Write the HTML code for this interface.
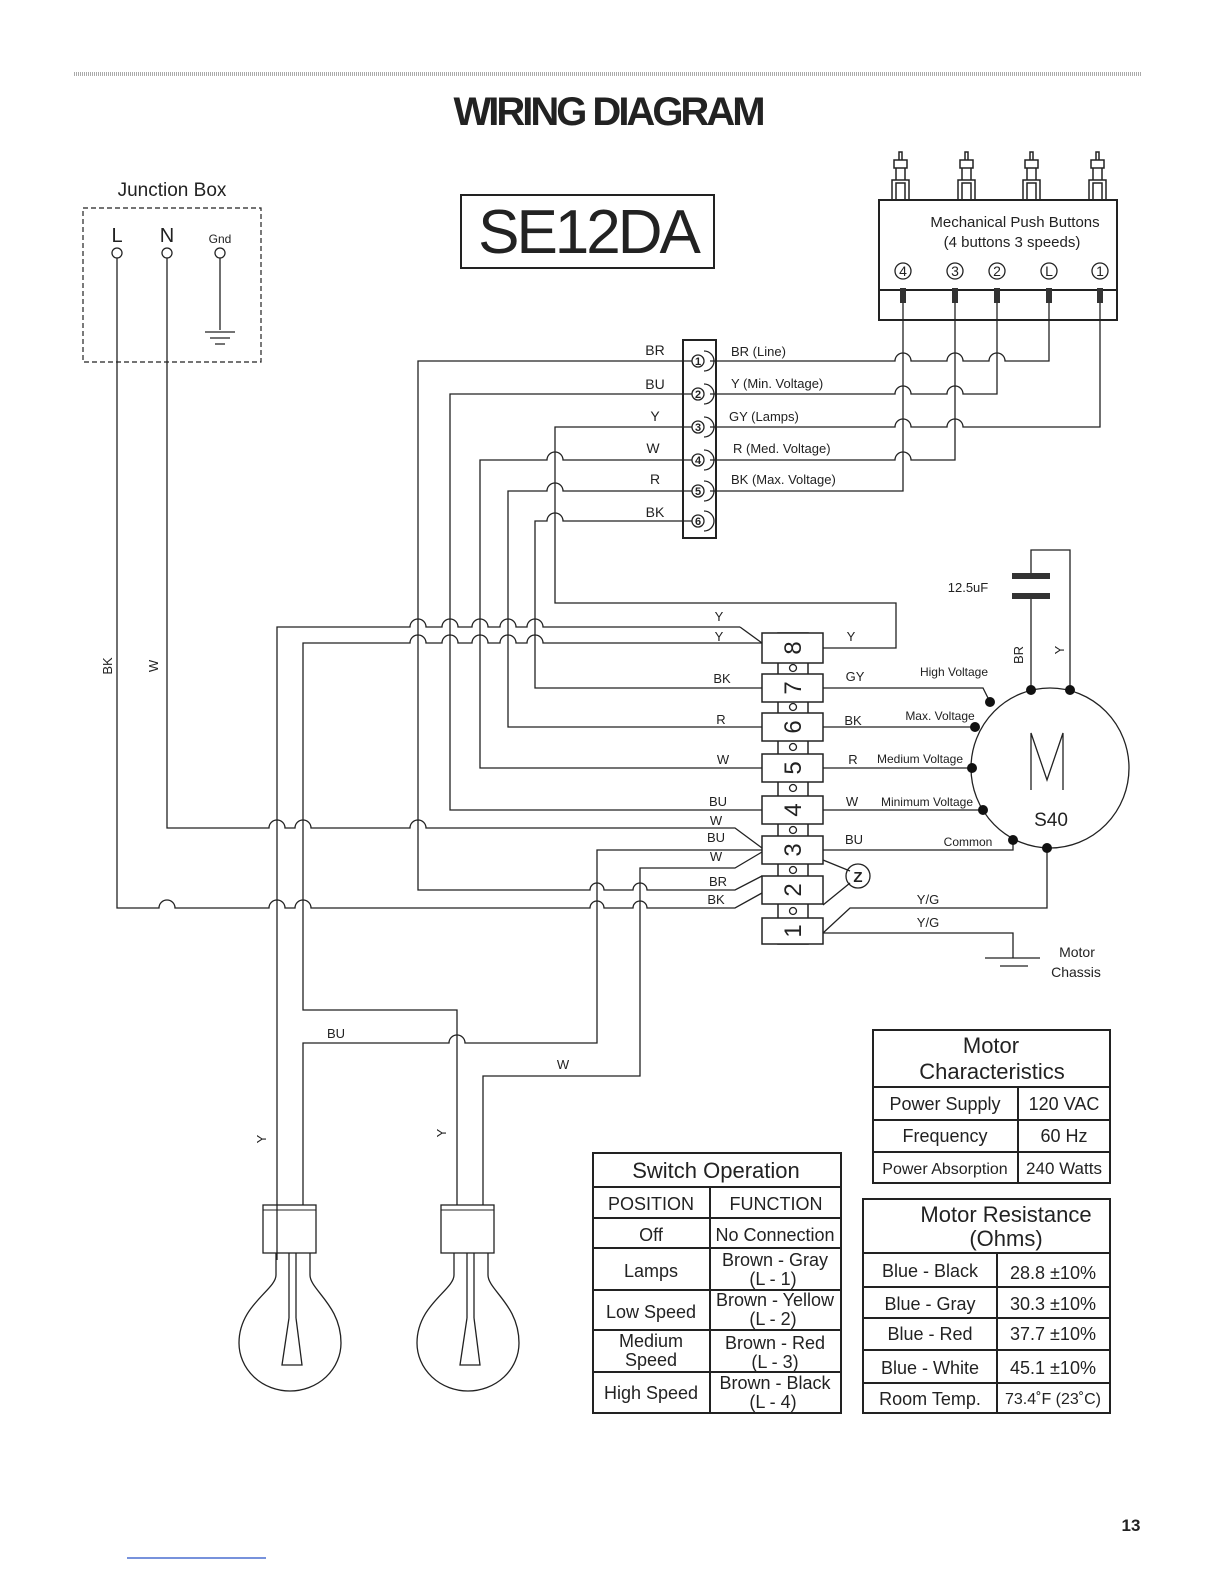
<!DOCTYPE html>
<html><head><meta charset="utf-8"><style>
html,body{margin:0;padding:0;background:#fff}
svg{display:block}
text{font-family:"Liberation Sans Narrow","Liberation Sans",sans-serif;fill:#222}
.w{fill:none;stroke:#222;stroke-width:1.3}
.t{stroke:#222;stroke-width:1.5;fill:#fff}
</style></head><body>
<svg width="1224" height="1584" viewBox="0 0 1224 1584" xmlns="http://www.w3.org/2000/svg">
<line x1="74" y1="74" x2="1142" y2="74" stroke="#aaa" stroke-width="4" stroke-dasharray="1 1"/>
<text x="608" y="125" font-size="40" font-weight="bold" text-anchor="middle" style="font-family:'Liberation Sans',sans-serif;letter-spacing:-3px">WIRING DIAGRAM</text>

<text x="172" y="196" font-size="19" text-anchor="middle">Junction Box</text>
<rect x="83" y="208" width="178" height="154" fill="none" stroke="#222" stroke-width="1.2" stroke-dasharray="5 3"/>
<text x="117" y="242" font-size="20" text-anchor="middle">L</text>
<text x="167" y="242" font-size="20" text-anchor="middle">N</text>
<text x="220" y="243" font-size="12" text-anchor="middle">Gnd</text>
<circle cx="117" cy="253" r="5" class="w"/><circle cx="167" cy="253" r="5" class="w"/><circle cx="220" cy="253" r="5" class="w"/>
<path class="w" d="M220 258V330M205 332H235M210 338H230M215 344H225"/>
<text transform="translate(112,666) rotate(-90)" font-size="13" text-anchor="middle">BK</text>
<text transform="translate(158,666) rotate(-90)" font-size="13" text-anchor="middle">W</text>

<rect x="461" y="195" width="253" height="73" fill="none" stroke="#222" stroke-width="2"/>
<text x="588" y="253" font-size="62" text-anchor="middle" style="font-family:'Liberation Sans',sans-serif;letter-spacing:-3px">SE12DA</text>

<g class="w" fill="#fff">
<rect x="879" y="200" width="238" height="120" fill="none" stroke-width="2"/>
<line x1="879" y1="290" x2="1117" y2="290" stroke-width="2"/>
</g>
<g fill="none" stroke="#222" stroke-width="1.5">
<path d="M892 200V180H909V200M896 200V183H905V200M896 180V168H905V180M894 160H907V168H894ZM899 152H902V160H899Z"/>
<path d="M958 200V180H975V200M962 200V183H971V200M962 180V168H971V180M960 160H973V168H960ZM965 152H968V160H965Z"/>
<path d="M1023 200V180H1040V200M1027 200V183H1036V200M1027 180V168H1036V180M1025 160H1038V168H1025ZM1030 152H1033V160H1030Z"/>
<path d="M1089 200V180H1106V200M1093 200V183H1102V200M1093 180V168H1102V180M1091 160H1104V168H1091ZM1096 152H1099V160H1096Z"/>
</g>
<text x="1015" y="227" font-size="15" text-anchor="middle">Mechanical Push Buttons</text>
<text x="1012" y="247" font-size="15" text-anchor="middle">(4 buttons 3 speeds)</text>
<g font-size="14" text-anchor="middle">
<circle cx="903" cy="271" r="8" class="w"/><text x="903" y="276">4</text>
<circle cx="955" cy="271" r="8" class="w"/><text x="955" y="276">3</text>
<circle cx="997" cy="271" r="8" class="w"/><text x="997" y="276">2</text>
<circle cx="1049" cy="271" r="8" class="w"/><text x="1049" y="276">L</text>
<circle cx="1100" cy="271" r="8" class="w"/><text x="1100" y="276">1</text>
</g>
<g fill="#333"><rect x="900" y="288" width="6" height="15"/><rect x="952" y="288" width="6" height="15"/><rect x="994" y="288" width="6" height="15"/><rect x="1046" y="288" width="6" height="15"/><rect x="1097" y="288" width="6" height="15"/></g>

<rect x="683" y="340" width="33" height="198" fill="none" stroke="#222" stroke-width="2"/>
<g font-size="11" font-weight="bold" text-anchor="middle">
<circle cx="698" cy="361" r="6" class="w"/><text x="698" y="365">1</text>
<circle cx="698" cy="394" r="6" class="w"/><text x="698" y="398">2</text>
<circle cx="698" cy="427" r="6" class="w"/><text x="698" y="431">3</text>
<circle cx="698" cy="460" r="6" class="w"/><text x="698" y="464">4</text>
<circle cx="698" cy="491" r="6" class="w"/><text x="698" y="495">5</text>
<circle cx="698" cy="521" r="6" class="w"/><text x="698" y="525">6</text>
</g>
<g class="w" stroke-width="2"><path d="M704 351a10 10 0 0 1 0 20M704 384a10 10 0 0 1 0 20M704 417a10 10 0 0 1 0 20M704 450a10 10 0 0 1 0 20M704 481a10 10 0 0 1 0 20M704 511a10 10 0 0 1 0 20"/></g>
<g font-size="14" text-anchor="middle">
<text x="655" y="355">BR</text><text x="655" y="389">BU</text><text x="655" y="421">Y</text><text x="653" y="453">W</text><text x="655" y="484">R</text><text x="655" y="517">BK</text>
</g>
<g font-size="13">
<text x="731" y="356">BR (Line)</text><text x="731" y="388">Y (Min. Voltage)</text><text x="729" y="421">GY (Lamps)</text><text x="733" y="453">R (Med. Voltage)</text><text x="731" y="484">BK (Max. Voltage)</text>
</g>

<g class="w">
<path d="M710 361H895a8 8 0 0 1 16 0H947a8 8 0 0 1 16 0H989a8 8 0 0 1 16 0H1049V303"/>
<path d="M710 394H895a8 8 0 0 1 16 0H947a8 8 0 0 1 16 0H997V303"/>
<path d="M710 427H895a8 8 0 0 1 16 0H947a8 8 0 0 1 16 0H1100V303"/>
<path d="M710 460H895a8 8 0 0 1 16 0H955V303"/>
<path d="M710 491H903V303"/>
</g>

<g class="w">
<path d="M692 361H418V890H590a7 7 0 0 1 14 0H633a7 7 0 0 1 14 0H735L762 876"/>
<path d="M692 394H450V810H762"/>
<path d="M692 427H555V603H896V648H823"/>
<path d="M692 460H563a8 8 0 0 0 -16 0H480V768H762"/>
<path d="M692 491H563a8 8 0 0 0 -16 0H508V727H762"/>
<path d="M692 521H563a8 8 0 0 0 -16 0H535V688H762"/>
<path d="M740 627H543a8 8 0 0 0 -16 0H516a8 8 0 0 0 -16 0H488a8 8 0 0 0 -16 0H458a8 8 0 0 0 -16 0H426a8 8 0 0 0 -16 0H277V1260"/>
<path d="M740 627L762 643"/>
<path d="M762 643H543a8 8 0 0 0 -16 0H516a8 8 0 0 0 -16 0H488a8 8 0 0 0 -16 0H458a8 8 0 0 0 -16 0H426a8 8 0 0 0 -16 0H303V1010H457V1205"/>
<path d="M167 258V828H269a8 8 0 0 1 16 0H295a8 8 0 0 1 16 0H410a8 8 0 0 1 16 0H735L762 848"/>
<path d="M117 258V908H159a8 8 0 0 1 16 0H269a8 8 0 0 1 16 0H295a8 8 0 0 1 16 0H590a7 7 0 0 1 14 0H633a7 7 0 0 1 14 0H735L762 893"/>
<path d="M762 850H597V1043H465a8 8 0 0 0 -16 0H303V1205"/>
<path d="M762 852L735 868H640V1076H483V1205"/>
</g>
<g font-size="13" text-anchor="middle">
<text x="336" y="1038">BU</text><text x="563" y="1069">W</text>
<text transform="translate(266,1139) rotate(-90)">Y</text>
<text transform="translate(446,1133) rotate(-90)">Y</text>
</g>

<rect x="778" y="633" width="30" height="311" class="t"/>
<g class="t">
<rect x="762" y="633" width="61" height="30"/>
<rect x="762" y="674" width="61" height="28"/>
<rect x="762" y="713" width="61" height="28"/>
<rect x="762" y="754" width="61" height="28"/>
<rect x="762" y="796" width="61" height="28"/>
<rect x="762" y="836" width="61" height="28"/>
<rect x="762" y="876" width="61" height="28"/>
<rect x="762" y="918" width="61" height="26"/>
</g>
<g font-size="24" text-anchor="middle">
<text transform="translate(801,648) rotate(-90)">8</text>
<text transform="translate(801,688) rotate(-90)">7</text>
<text transform="translate(801,727) rotate(-90)">6</text>
<text transform="translate(801,768) rotate(-90)">5</text>
<text transform="translate(801,810) rotate(-90)">4</text>
<text transform="translate(801,850) rotate(-90)">3</text>
<text transform="translate(801,890) rotate(-90)">2</text>
<text transform="translate(801,931) rotate(-90)">1</text>
</g>
<g class="w"><circle cx="793" cy="668" r="3.5"/><circle cx="793" cy="707" r="3.5"/><circle cx="793" cy="747" r="3.5"/><circle cx="793" cy="788" r="3.5"/><circle cx="793" cy="830" r="3.5"/><circle cx="793" cy="870" r="3.5"/><circle cx="793" cy="911" r="3.5"/></g>
<g font-size="13" text-anchor="middle">
<text x="719" y="621">Y</text><text x="719" y="641">Y</text><text x="722" y="683">BK</text><text x="721" y="724">R</text><text x="723" y="764">W</text>
<text x="718" y="806">BU</text><text x="716" y="825">W</text><text x="716" y="842">BU</text><text x="716" y="861">W</text><text x="718" y="886">BR</text><text x="716" y="904">BK</text>
<text x="851" y="641">Y</text><text x="855" y="681">GY</text><text x="853" y="725">BK</text><text x="853" y="764">R</text><text x="852" y="806">W</text><text x="854" y="844">BU</text>
<text x="928" y="904">Y/G</text><text x="928" y="927">Y/G</text>
</g>
<g font-size="12" text-anchor="middle">
<text x="954" y="676">High Voltage</text><text x="940" y="720">Max. Voltage</text><text x="920" y="763">Medium Voltage</text><text x="927" y="806">Minimum Voltage</text><text x="968" y="846">Common</text>
</g>

<g class="w">
<path d="M823 688H983L990 702"/>
<path d="M823 727H975"/>
<path d="M823 768H972"/>
<path d="M823 810H983"/>
<path d="M823 850H1013V840"/>
<path d="M823 860L850 871M850 883L823 905"/>
<path d="M823 933L850 908H1047V848"/>
<path d="M823 933H1013V958"/>
<path d="M985 958H1040M1000 966H1028"/>
<path d="M1031 690V598M1031 576V550H1070V690"/>
</g>
<circle cx="858" cy="876" r="12" class="w" stroke-width="2"/>
<text x="858" y="882" font-size="15" font-weight="bold" text-anchor="middle">Z</text>
<rect x="1012" y="573" width="38" height="6" fill="#333"/>
<rect x="1012" y="593" width="38" height="6" fill="#333"/>
<text x="968" y="592" font-size="13" text-anchor="middle">12.5uF</text>
<text transform="translate(1023,655) rotate(-90)" font-size="13" text-anchor="middle">BR</text>
<text transform="translate(1064,650) rotate(-90)" font-size="13" text-anchor="middle">Y</text>
<text x="1077" y="957" font-size="14" text-anchor="middle">Motor</text>
<text x="1076" y="977" font-size="14" text-anchor="middle">Chassis</text>

<ellipse cx="1050" cy="768" rx="79" ry="80" class="w" stroke-width="2"/>
<path d="M1031 790V733L1047 780L1063 733V790" class="w" stroke-width="2"/>
<text x="1051" y="826" font-size="19" text-anchor="middle">S40</text>
<g fill="#111">
<circle cx="1031" cy="690" r="5"/><circle cx="1070" cy="690" r="5"/><circle cx="990" cy="702" r="5"/>
<circle cx="975" cy="727" r="5"/><circle cx="972" cy="768" r="5"/><circle cx="983" cy="810" r="5"/>
<circle cx="1013" cy="840" r="5"/><circle cx="1047" cy="848" r="5"/>
</g>

<g class="w" stroke-width="2">
<rect x="263" y="1205" width="53" height="48"/><line x1="263" y1="1210" x2="316" y2="1210" stroke-width="1"/>
<path d="M276 1253V1275C276 1290 239 1305 239 1343A51 48 0 0 0 341 1343C341 1305 310 1290 310 1275V1253"/>
<path d="M289 1253V1318M296 1253V1318M289 1318L282 1365H302L296 1318M282 1365H302"/>
<rect x="441" y="1205" width="53" height="48"/><line x1="441" y1="1210" x2="494" y2="1210" stroke-width="1"/>
<path d="M454 1253V1275C454 1290 417 1305 417 1343A51 48 0 0 0 519 1343C519 1305 488 1290 488 1275V1253"/>
<path d="M467 1253V1318M474 1253V1318M467 1318L460 1365H480L474 1318M460 1365H480"/>
</g>

<g fill="none" stroke="#222" stroke-width="2">
<rect x="593" y="1153" width="248" height="260"/>
<path d="M593 1187H841M593 1218H841M593 1248H841M593 1290H841M593 1330H841M593 1372H841M710 1187V1413"/>
<rect x="873" y="1030" width="237" height="153"/>
<path d="M873 1087H1110M873 1120H1110M873 1152H1110M1018 1087V1183"/>
<rect x="863" y="1199" width="247" height="214"/>
<path d="M863 1253H1110M863 1287H1110M863 1318H1110M863 1350H1110M863 1383H1110M997 1253V1413"/>
</g>
<g font-size="18" text-anchor="middle">
<text x="716" y="1178" font-size="22">Switch Operation</text>
<text x="651" y="1210">POSITION</text><text x="776" y="1210">FUNCTION</text>
<text x="651" y="1241">Off</text><text x="775" y="1241">No Connection</text>
<text x="651" y="1277">Lamps</text><text x="775" y="1266">Brown - Gray</text><text x="773" y="1285">(L - 1)</text>
<text x="651" y="1318">Low Speed</text><text x="775" y="1306">Brown - Yellow</text><text x="773" y="1325">(L - 2)</text>
<text x="651" y="1347">Medium</text><text x="651" y="1366">Speed</text><text x="775" y="1349">Brown - Red</text><text x="775" y="1368">(L - 3)</text>
<text x="651" y="1399">High Speed</text><text x="775" y="1389">Brown - Black</text><text x="773" y="1408">(L - 4)</text>
<text x="991" y="1053" font-size="22">Motor</text><text x="992" y="1079" font-size="22">Characteristics</text>
<text x="945" y="1110">Power Supply</text><text x="1064" y="1110">120 VAC</text>
<text x="945" y="1142">Frequency</text><text x="1064" y="1142">60 Hz</text>
<text x="945" y="1174" font-size="16">Power Absorption</text><text x="1064" y="1174" font-size="17">240 Watts</text>
<text x="1006" y="1222" font-size="22">Motor Resistance</text><text x="1006" y="1246" font-size="22">(Ohms)</text>
<text x="930" y="1277">Blue - Black</text><text x="1053" y="1279">28.8 ±10%</text>
<text x="930" y="1310">Blue - Gray</text><text x="1053" y="1310">30.3 ±10%</text>
<text x="930" y="1340">Blue - Red</text><text x="1053" y="1340">37.7 ±10%</text>
<text x="930" y="1374">Blue - White</text><text x="1053" y="1374">45.1 ±10%</text>
<text x="930" y="1405">Room Temp.</text><text x="1053" y="1404" font-size="16">73.4˚F (23˚C)</text>
</g>

<text x="1131" y="1531" font-size="17" font-weight="bold" text-anchor="middle" style="font-family:'Liberation Sans',sans-serif">13</text>
<line x1="127" y1="1558" x2="266" y2="1558" stroke="#4a6fd0" stroke-width="1.5"/>
</svg>
</body></html>
